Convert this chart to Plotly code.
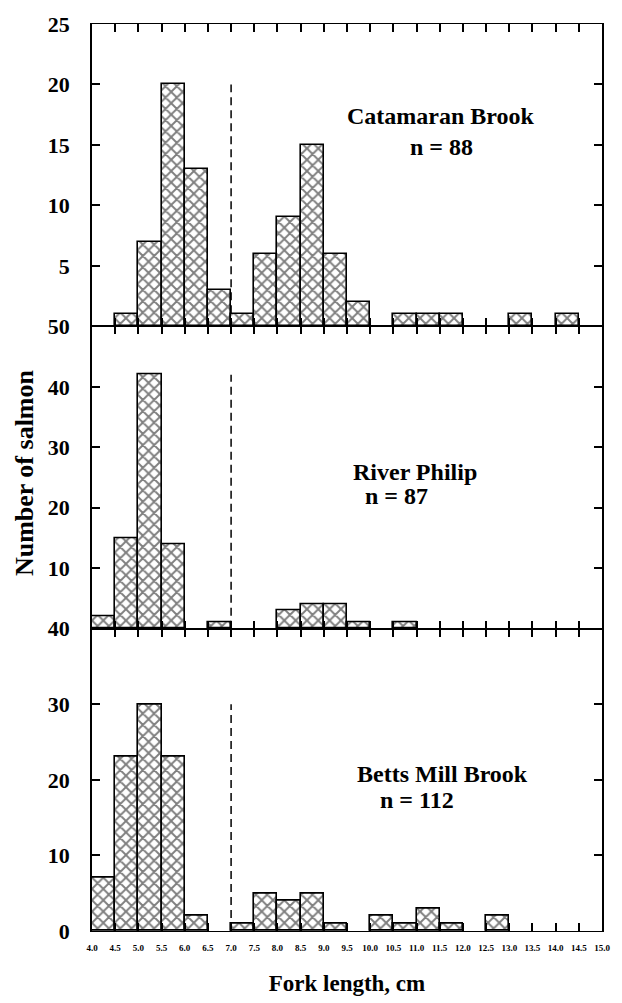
import plotly.graph_objects as go
from plotly.subplots import make_subplots

# Bin starts (cm), bin width 0.5
bin_starts = [4.0, 4.5, 5.0, 5.5, 6.0, 6.5, 7.0, 7.5, 8.0, 8.5, 9.0, 9.5,
              10.0, 10.5, 11.0, 11.5, 12.0, 12.5, 13.0, 13.5, 14.0, 14.5]
bin_width = 0.5

catamaran = [0, 1, 7, 20, 13, 3, 1, 6, 9, 15, 6, 2, 0, 1, 1, 1, 0, 0, 1, 0, 1, 0]
river_philip = [2, 15, 42, 14, 0, 1, 0, 0, 3, 4, 4, 1, 0, 1, 0, 0, 0, 0, 0, 0, 0, 0]
betts_mill = [7, 23, 30, 23, 2, 0, 1, 5, 4, 5, 1, 0, 2, 1, 3, 1, 0, 2, 0, 0, 0, 0]

site_names = ["Catamaran Brook", "River Philip", "Betts Mill Brook"]
site_n = ["n = 88", "n = 87", "n = 112"]

cutoff_x = 7.0
cutoff_tops = [20, 42, 30]

y_ranges = [[0, 25], [0, 50], [0, 40]]
y_ticks = [[5, 10, 15, 20, 25], [10, 20, 30, 40, 50], [0, 10, 20, 30, 40]]

x_tickvals = [4.0 + 0.5 * i for i in range(23)]
x_ticktext = ["%.1f" % v for v in x_tickvals]

series = [catamaran, river_philip, betts_mill]

fig = make_subplots(rows=3, cols=1, shared_xaxes=True, vertical_spacing=0)

serif = "Liberation Serif, Times New Roman, serif"

for i, vals in enumerate(series):
    xs = [b + bin_width / 2 for b, v in zip(bin_starts, vals) if v > 0]
    ys = [v for v in vals if v > 0]
    fig.add_trace(go.Bar(
        x=xs, y=ys, width=bin_width,
        marker=dict(color="white",
                    line=dict(color="black", width=1.6),
                    pattern=dict(shape="x", fgcolor="black", bgcolor="white",
                                 size=8, solidity=0.42)),
        showlegend=False), row=i + 1, col=1)
    fig.add_trace(go.Scatter(
        x=[cutoff_x, cutoff_x], y=[0, cutoff_tops[i]], mode="lines",
        line=dict(color="black", width=1.5, dash="8px,5px"),
        showlegend=False), row=i + 1, col=1)

for i in range(3):
    fig.update_xaxes(
        range=[4.0, 15.0], tickvals=x_tickvals, ticktext=x_ticktext,
        ticks="inside", ticklen=8, tickwidth=1.5, tickcolor="black",
        showline=True, linecolor="black", linewidth=1.2, mirror="ticks",
        showgrid=False, zeroline=False,
        showticklabels=(i == 2),
        tickfont=dict(family=serif, size=9, color="black", weight="bold"),
        ticklabelstandoff=8,
        row=i + 1, col=1)
    fig.update_yaxes(
        range=y_ranges[i], tickvals=y_ticks[i],
        ticks="inside", ticklen=8, tickwidth=1.5, tickcolor="black",
        showline=True, linecolor="black", linewidth=1.5, mirror="ticks",
        showgrid=False, zeroline=False,
        tickfont=dict(family=serif, size=22, color="black", weight="bold"),
        ticklabelstandoff=16,
        row=i + 1, col=1)

fig.update_xaxes(title=dict(text="Fork length, cm",
                            font=dict(family=serif, size=23, color="black", weight="bold"),
                            standoff=22), row=3, col=1)

# Site labels
label_pos = [
    ((0.685, 0.696), (0.686, 0.592)),
    ((0.633, 0.518), (0.598, 0.439)),
    ((0.688, 0.520), (0.637, 0.434)),
]
for i in range(3):
    xr = "x domain" if i == 0 else "x%d domain" % (i + 1)
    yr = "y domain" if i == 0 else "y%d domain" % (i + 1)
    (nx, ny), (cx, cy) = label_pos[i]
    fig.add_annotation(text=site_names[i], x=nx, y=ny, xref=xr, yref=yr,
                       showarrow=False, xanchor="center", yanchor="middle",
                       font=dict(family=serif, size=24, color="black", weight="bold"))
    fig.add_annotation(text=site_n[i], x=cx, y=cy, xref=xr, yref=yr,
                       showarrow=False, xanchor="center", yanchor="middle",
                       font=dict(family=serif, size=24, color="black", weight="bold"))

plot_l, plot_r, plot_t, plot_b = 92, 12, 20, 68
W, H = 622, 1003

fig.add_annotation(text="Number of salmon",
                   x=(23 - plot_l) / (W - plot_l - plot_r),
                   y=(H - plot_b - 473) / (H - plot_t - plot_b),
                   xref="paper", yref="paper",
                   showarrow=False, textangle=-90, xanchor="center", yanchor="middle",
                   font=dict(family=serif, size=26, color="black", weight="bold"))

fig.update_layout(
    width=W, height=H,
    margin=dict(l=plot_l, r=plot_r, t=plot_t, b=plot_b),
    paper_bgcolor="white", plot_bgcolor="white",
    bargap=0, barmode="overlay",
)

fig.write_html("out.html")
